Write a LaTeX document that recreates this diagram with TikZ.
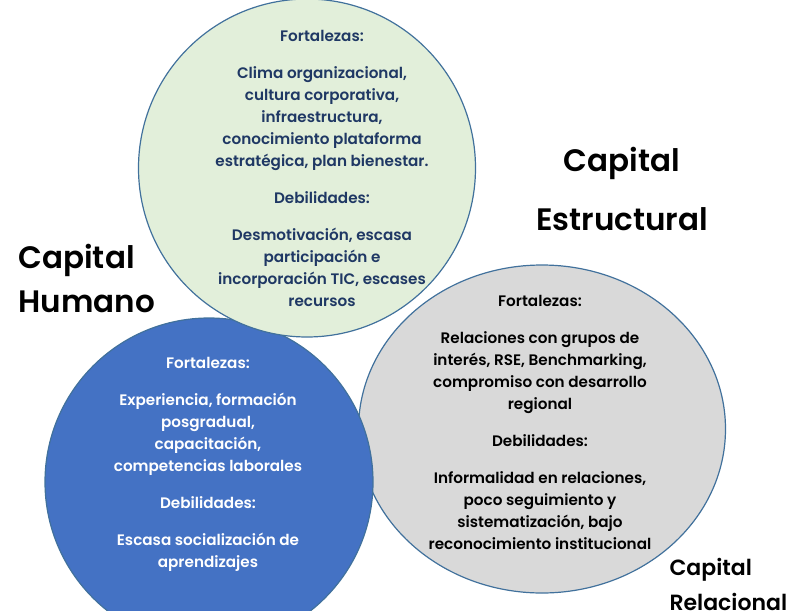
\documentclass[tikz,border=0pt]{standalone}
\usepackage{fontspec}
\setmainfont{Poppins}[UprightFont=* Medium, BoldFont=* SemiBold]
\usetikzlibrary{shapes.geometric}
\definecolor{borde}{HTML}{41719C}
\definecolor{verde}{HTML}{E2EFDA}
\definecolor{azul}{HTML}{4472C4}
\definecolor{gris}{HTML}{D9D9D9}
\definecolor{marino}{HTML}{1F3864}

\begin{document}
\begin{tikzpicture}[x=1pt, y=-1pt, zona/.style={draw=borde, line width=1.2pt, ellipse, inner sep=0pt}, txt/.style={align=center, font=\fontsize{15.2}{22}\bfseries}, titulo/.style={font=\fontsize{31}{44}\bfseries}]
	\useasboundingbox (0,0) rectangle (796,611);
	\clip (0,0) rectangle (796,611);
	\node[zona, fill=gris, minimum width=367pt, minimum height=328pt] (relacional) at (542,429) {};
	\node[zona, fill=azul, minimum width=328pt, minimum height=328pt] (humano) at (209,482) {};
	\node[zona, fill=verde, minimum width=337pt, minimum height=338pt] (estructural) at (307,168) {};
	\node[txt, text=marino] (tEst) at (322,168) {Fortalezas:\\[15pt] Clima organizacional,\\ cultura corporativa,\\ infraestructura,\\ conocimiento plataforma\\ estratégica, plan bienestar.\\[15pt] Debilidades:\\[15pt] Desmotivación, escasa\\ participación e\\ incorporación TIC, escases\\ recursos};
	\node[txt, text=white] (tHum) at (208,464) {Fortalezas:\\[15pt] Experiencia, formación\\ posgradual,\\ capacitación,\\ competencias laborales\\[15pt] Debilidades:\\[15pt] Escasa socialización de\\ aprendizajes};
	\node[txt] (tRel) at (540,422) {Fortalezas:\\[15pt] Relaciones con grupos de\\ interés, RSE, Benchmarking,\\ compromiso con desarrollo\\ regional\\[15pt] Debilidades:\\[15pt] Informalidad en relaciones,\\ poco seguimiento y\\ sistematización, bajo\\ reconocimiento institucional};
	\node[titulo, align=center, font=\fontsize{31}{59}\bfseries] (lEst) at (622,189) {Capital\\ Estructural};
	\node[titulo, align=left, anchor=west] (lHum) at (15,278) {Capital\\ Humano};
	\node[titulo, align=left, anchor=west, font=\fontsize{22}{35}\bfseries] (lRel) at (666,584) {Capital\\ Relacional};
\end{tikzpicture}
\end{document}
